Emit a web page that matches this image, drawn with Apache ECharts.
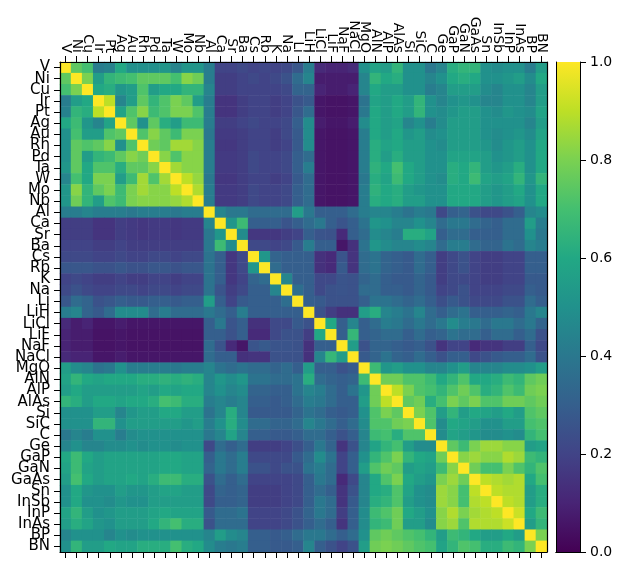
<!DOCTYPE html>
<html>
<head>
<meta charset="utf-8">
<script src="https://cdn.jsdelivr.net/npm/echarts@6/dist/echarts.min.js"></script>
<style>
  html, body { margin: 0; padding: 0; background: #fff; }
  #chart { width: 625px; height: 569px; }
</style>
</head>
<body>
<div id="chart"></div>
<script>
// 材料名称（行、列相同）
const materials = ['V', 'Ni', 'Cu', 'Ir', 'Pt', 'Ag', 'Au', 'Rh', 'Pd', 'Ta', 'W', 'Mo', 'Nb', 'Al',
  'Ca', 'Sr', 'Ba', 'Cs', 'Rb', 'K', 'Na', 'Li', 'LiH', 'LiCl', 'LiF', 'NaF', 'NaCl', 'MgO',
  'AlN', 'AlP', 'AlAs', 'Si', 'SiC', 'C', 'Ge', 'GaP', 'GaN', 'GaAs', 'Sn', 'InSb', 'InP', 'InAs', 'BP', 'BN']

// 相关系数矩阵，单位 %（每行 44 个值）
const corrRows = [
  [100,75,70,42,44,60,50,50,50,52,45,52,52, 42, 20,20,22,20,21,20,22, 27,42, 12,10,10,12, 50,58, 55,65,50,50,40,45,62,65,65,50,48,50,50,42,55], // V
  [75,100,80,55,65,68,70,75,75,75,70,82,78, 42, 18,18,20,22,20,22,25, 35,45, 8,8,8,8, 45,65, 60,62,50,50,45,50,60,62,60,50,50,52,55,48,60], // Ni
  [70,80,100,60,62,52,55,72,55,60,60,65,65, 45, 18,18,20,20,20,20,22, 32,32, 10,8,8,10, 45,60, 55,55,50,50,42,45,55,55,55,48,45,50,50,45,55], // Cu
  [42,55,60,100,90,45,55,75,65,72,80,75,55, 42, 15,15,18,20,20,18,20, 25,28, 6,5,5,6, 38,58, 55,60,55,65,50,45,50,52,50,45,45,50,50,45,55], // Ir
  [44,65,62,90,100,58,72,82,68,72,80,80,72, 42, 15,15,18,20,20,18,20, 27,35, 6,5,5,6, 40,60, 55,60,55,65,50,48,52,55,55,50,48,52,50,48,58], // Pt
  [60,68,52,45,58,100,75,50,75,62,55,68,68, 42, 18,18,20,22,20,20,22, 30,48, 8,6,6,8, 48,60, 55,58,45,50,42,48,55,55,55,50,50,50,50,45,55], // Ag
  [50,70,55,55,72,75,100,72,82,75,68,80,80, 40, 17,17,18,20,20,18,22, 28,48, 6,5,5,6, 42,60, 55,60,52,55,48,50,55,55,55,50,48,50,52,48,58], // Au
  [50,75,72,75,82,50,72,100,78,75,86,86,82, 42, 16,16,18,20,20,18,20, 28,48, 6,5,5,6, 42,62, 58,60,55,55,50,48,55,55,55,52,48,52,55,50,60], // Rh
  [50,75,55,65,68,75,82,78,100,82,72,82,82, 42, 17,17,18,22,20,20,22, 30,35, 6,5,5,6, 42,62, 55,62,55,55,50,50,58,58,58,55,50,52,55,50,60], // Pd
  [52,75,60,72,72,62,75,75,82,100,86,82,82, 42, 17,17,18,22,20,20,22, 30,42, 6,5,5,6, 42,64, 60,70,60,55,50,50,62,60,65,55,52,55,62,50,60], // Ta
  [45,70,60,80,80,55,68,86,72,86,100,90,84, 40, 16,16,18,20,20,18,20, 28,35, 6,5,5,6, 40,62, 58,68,60,55,50,48,62,60,68,58,55,58,65,52,65], // W
  [52,82,65,75,80,68,80,86,82,82,90,100,88, 42, 17,17,18,22,20,20,22, 30,35, 6,5,5,6, 42,64, 60,62,55,52,50,50,60,60,60,55,52,55,60,50,60], // Mo
  [52,78,65,55,72,68,80,82,82,82,84,88,100, 42, 17,17,18,22,20,20,22, 30,35, 6,5,5,6, 42,62, 60,62,55,55,50,50,60,60,60,55,52,55,58,50,60], // Nb
  [42,42,45,42,42,42,40,42,42,42,40,42,42, 100, 45,40,40,35,35,35,35, 55,40, 30,30,30,35, 42,45, 45,42,38,42,40,22,30,32,25,22,22,25,30,45,48], // Al
  [18,18,18,15,15,18,17,16,17,17,16,17,17, 45, 100,52,68,30,30,30,26, 30,35, 40,30,26,30, 38,52, 50,45,45,50,45,35,40,40,35,32,30,35,35,55,42], // Ca
  [18,18,18,15,15,18,17,16,17,17,16,17,17, 40, 52,100,48,16,16,16,18, 20,30, 26,25,12,30, 35,48, 45,42,62,62,58,30,35,35,30,30,30,35,35,50,40], // Sr
  [20,20,20,18,18,20,18,18,18,18,18,18,18, 40, 68,48,100,22,22,20,22, 28,42, 30,30,6,14, 38,52, 48,45,45,48,45,35,42,42,35,32,32,38,35,45,42], // Ba
  [22,22,22,20,20,22,20,20,22,22,20,22,22, 38, 30,16,22,100,52,32,30, 30,30, 14,12,26,15, 35,38, 32,30,28,35,30,18,22,25,20,18,18,20,20,30,30], // Cs
  [27,27,27,25,25,27,25,25,27,27,25,27,27, 38, 30,16,22,52,100,35,30, 30,30, 14,12,28,15, 35,38, 32,30,28,35,30,18,22,25,20,18,18,20,20,30,30], // Rb
  [20,22,20,18,18,20,18,18,20,20,18,20,20, 38, 30,16,20,32,35,100,45, 30,30, 22,22,26,25, 32,35, 30,28,28,32,28,18,22,22,20,18,18,20,20,28,28], // K
  [22,25,22,20,20,22,22,20,22,22,20,22,22, 38, 26,18,22,30,30,45,100, 36,30, 22,25,26,25, 35,35, 30,30,28,32,28,20,22,25,20,20,20,22,22,30,28], // Na
  [27,35,32,25,27,30,28,28,30,30,28,30,30, 55, 30,20,28,30,30,30,36, 100,30, 28,25,25,25, 30,38, 38,35,32,35,30,24,28,25,22,22,22,25,25,35,30], // Li
  [42,45,32,28,35,48,48,48,35,42,35,35,35, 40, 35,30,42,30,30,30,30, 30,100, 25,18,14,14, 55,62, 45,42,38,45,35,30,35,38,30,30,30,32,30,40,45], // LiH
  [12,8,10,6,6,8,6,6,6,6,6,6,6, 30, 40,26,30,14,14,22,22, 28,25, 100,60,30,45, 30,35, 42,40,35,40,35,40,48,42,40,35,40,40,35,40,32], // LiCl
  [10,8,8,5,5,6,5,5,5,5,5,5,5, 30, 30,25,30,12,12,22,25, 25,18, 60,100,30,66, 30,32, 35,35,30,35,30,32,38,35,35,30,35,35,30,35,25], // LiF
  [10,8,8,5,5,6,5,5,5,5,5,5,5, 35, 26,12,6,26,28,26,26, 25,14, 30,30,100,55, 25,32, 32,30,28,30,25,15,20,20,12,15,15,18,18,30,22], // NaF
  [12,10,10,6,6,8,6,6,6,6,6,6,6, 35, 30,30,14,15,15,25,25, 25,14, 45,66,55,100, 28,32, 38,32,30,35,30,25,30,30,22,25,28,30,30,35,25], // NaCl
  [55,48,45,38,40,50,42,42,42,42,40,42,42, 45, 38,35,38,35,35,32,35, 30,55, 30,30,25,28, 100,68, 52,55,50,50,45,45,50,55,45,45,45,48,48,50,55], // MgO
  [58,65,60,58,60,60,60,62,62,64,62,64,62, 45, 52,48,52,38,38,35,35, 38,62, 35,32,30,32, 68,100, 78,78,72,72,68,60,65,72,60,60,62,68,65,75,78], // AlN
  [55,60,55,55,55,55,55,58,55,60,58,60,60, 45, 50,45,48,32,32,30,30, 38,45, 42,35,30,38, 52,78, 100,90,80,72,70,65,72,78,72,62,65,72,68,78,80], // AlP
  [65,62,55,60,60,58,60,60,62,70,68,62,62, 42, 45,42,45,30,30,28,30, 35,42, 40,35,30,30, 55,78, 90,100,75,78,62,70,80,75,80,72,72,78,78,75,78], // AlAs
  [50,50,50,55,55,45,52,55,55,60,60,55,55, 38, 45,62,45,28,28,28,28, 32,38, 35,30,28,30, 50,72, 80,75,100,80,72,55,65,55,60,58,55,60,55,72,75], // Si
  [50,50,50,65,65,50,55,55,55,55,55,52,55, 42, 50,62,48,35,35,32,32, 35,45, 40,35,30,35, 48,72, 72,78,80,100,72,48,60,58,55,50,50,55,55,70,72], // SiC
  [40,45,42,50,50,42,48,50,50,50,50,50,50, 40, 45,58,45,30,30,28,28, 30,35, 35,30,25,30, 45,68, 70,62,72,72,100,48,58,55,52,48,48,50,48,65,70], // C
  [45,50,45,45,48,48,50,48,50,50,48,50,50, 22, 35,30,35,18,18,18,20, 24,30, 40,32,15,25, 45,58, 65,70,55,48,48,100,75,68,80,85,85,82,82,55,58], // Ge
  [60,68,60,55,58,58,58,58,58,60,60,58,58, 30, 40,35,42,22,22,22,22, 28,35, 48,38,20,30, 50,65, 72,80,65,60,58,78,100,82,85,82,82,88,85,68,65], // GaP
  [58,68,58,55,58,58,58,58,58,60,60,58,58, 32, 40,35,42,25,25,22,25, 25,38, 42,35,20,30, 55,72, 78,75,55,58,55,68,82,100,78,70,70,80,72,65,72], // GaN
  [55,70,60,55,58,58,60,58,62,68,68,62,62, 25, 35,30,35,20,20,20,20, 22,30, 40,35,12,22, 45,60, 72,80,60,55,52,80,85,78,100,90,88,86,88,60,70], // GaAs
  [50,60,52,50,50,55,52,52,55,58,58,55,55, 22, 32,30,32,18,18,18,20, 22,30, 35,30,15,25, 45,60, 62,72,58,50,48,85,82,70,90,100,90,88,88,55,62], // Sn
  [50,60,50,50,48,52,50,50,55,55,55,55,55, 22, 30,30,32,18,18,18,20, 22,30, 40,35,15,28, 45,62, 65,72,55,50,48,85,82,70,88,90,100,90,88,55,62], // InSb
  [58,65,55,50,52,55,55,55,58,60,58,58,58, 28, 35,35,38,20,20,20,22, 25,32, 40,35,18,30, 48,68, 72,78,60,55,50,82,88,80,86,88,90,100,92,60,68], // InP
  [55,62,58,52,50,55,55,55,60,65,70,62,62, 25, 35,35,35,20,20,20,22, 25,30, 35,30,15,30, 48,65, 68,78,55,55,48,82,85,72,88,88,88,92,100,55,65], // InAs
  [45,50,50,50,45,50,48,50,50,50,50,50,50, 45, 55,48,45,30,30,28,30, 35,40, 40,35,30,35, 50,75, 78,75,72,70,65,55,68,65,60,55,55,60,55,100,80], // BP
  [50,65,55,55,60,58,58,62,62,62,70,62,60, 48, 42,40,42,30,30,28,28, 30,45, 30,25,20,25, 55,78, 80,78,75,72,70,58,65,72,70,62,62,68,65,80,100] // BN
]

// 色条刻度
const colorbarTicks = [0, 0.2, 0.4, 0.6, 0.8, 1.0]

// viridis 色阶
const viridis = ['#440154', '#482475', '#414487', '#355f8d', '#2a788e', '#21918c',
  '#22a884', '#44bf70', '#7ad151', '#bddf26', '#fde725']

const heatData = []
corrRows.forEach((row, i) => {
  row.forEach((v, j) => {
    heatData.push([j, i, v / 100])
  })
})

const fontFamily = 'DejaVu Sans'
const black = '#000'

const chart = echarts.init(document.getElementById('chart'))

const option = {
  animation: false,
  grid: [
    { left: 60, top: 62, width: 487, height: 490 },
    { left: 556, top: 62, width: 24, height: 490 } // 色条
  ],
  xAxis: [
    {
      type: 'category', gridIndex: 0, position: 'top', data: materials, z: 10,
      axisLine: { show: true, lineStyle: { color: black, width: 1.2 } },
      axisTick: { show: true, alignWithLabel: true, length: 6, lineStyle: { color: black } },
      axisLabel: { interval: 0, rotate: 90, margin: 9, fontSize: 14, color: black, fontFamily },
      splitLine: { show: false }
    },
    {
      type: 'category', gridIndex: 0, position: 'bottom', data: materials, z: 10,
      axisLine: { show: true, lineStyle: { color: black, width: 1.2 } },
      axisTick: { show: true, alignWithLabel: true, interval: 0, length: 6, lineStyle: { color: black } },
      axisLabel: { show: false },
      splitLine: { show: false }
    },
    {
      type: 'category', gridIndex: 1, position: 'bottom', data: ['c'], z: 10,
      axisLine: { show: true, lineStyle: { color: black } },
      axisTick: { show: false }, axisLabel: { show: false }
    },
    {
      type: 'category', gridIndex: 1, position: 'top', data: ['c'], z: 10,
      axisLine: { show: true, lineStyle: { color: black } },
      axisTick: { show: false }, axisLabel: { show: false }
    }
  ],
  yAxis: [
    {
      type: 'category', gridIndex: 0, position: 'left', data: materials, inverse: true, z: 10,
      axisLine: { show: true, lineStyle: { color: black, width: 1.2 } },
      axisTick: { show: true, alignWithLabel: true, interval: 0, length: 6, lineStyle: { color: black } },
      axisLabel: { interval: 0, margin: 10, fontSize: 15, color: black, fontFamily },
      splitLine: { show: false }
    },
    {
      type: 'category', gridIndex: 0, position: 'right', data: materials, inverse: true, z: 10,
      axisLine: { show: true, lineStyle: { color: black, width: 1.2 } },
      axisTick: { show: false }, axisLabel: { show: false }
    },
    {
      type: 'value', gridIndex: 1, position: 'right', min: 0, max: 1, interval: 0.2, z: 10,
      axisLine: { show: true, lineStyle: { color: black } },
      axisTick: { show: true, length: 6, lineStyle: { color: black } },
      axisLabel: { margin: 10, fontSize: 14, color: black, fontFamily, formatter: v => v.toFixed(1) },
      splitLine: { show: false }
    },
    {
      type: 'value', gridIndex: 1, position: 'left', min: 0, max: 1, z: 10,
      axisLine: { show: true, lineStyle: { color: black } },
      axisTick: { show: false }, axisLabel: { show: false }, splitLine: { show: false }
    }
  ],
  visualMap: {
    show: false,
    min: 0,
    max: 1,
    seriesIndex: 0,
    dimension: 2,
    inRange: { color: viridis }
  },
  series: [
    {
      type: 'heatmap',
      xAxisIndex: 0,
      yAxisIndex: 0,
      data: heatData,
      itemStyle: { borderWidth: 0 },
      emphasis: { disabled: true }
    },
    {
      // 色条：一根从 0 到 1 的渐变柱
      type: 'bar',
      xAxisIndex: 2,
      yAxisIndex: 2,
      data: [colorbarTicks[colorbarTicks.length - 1]],
      barWidth: '100%',
      silent: true,
      itemStyle: {
        color: new echarts.graphic.LinearGradient(0, 1, 0, 0,
          viridis.map((c, i) => ({ offset: i / (viridis.length - 1), color: c })))
      }
    }
  ]
}

chart.setOption(option)
</script>
</body>
</html>
